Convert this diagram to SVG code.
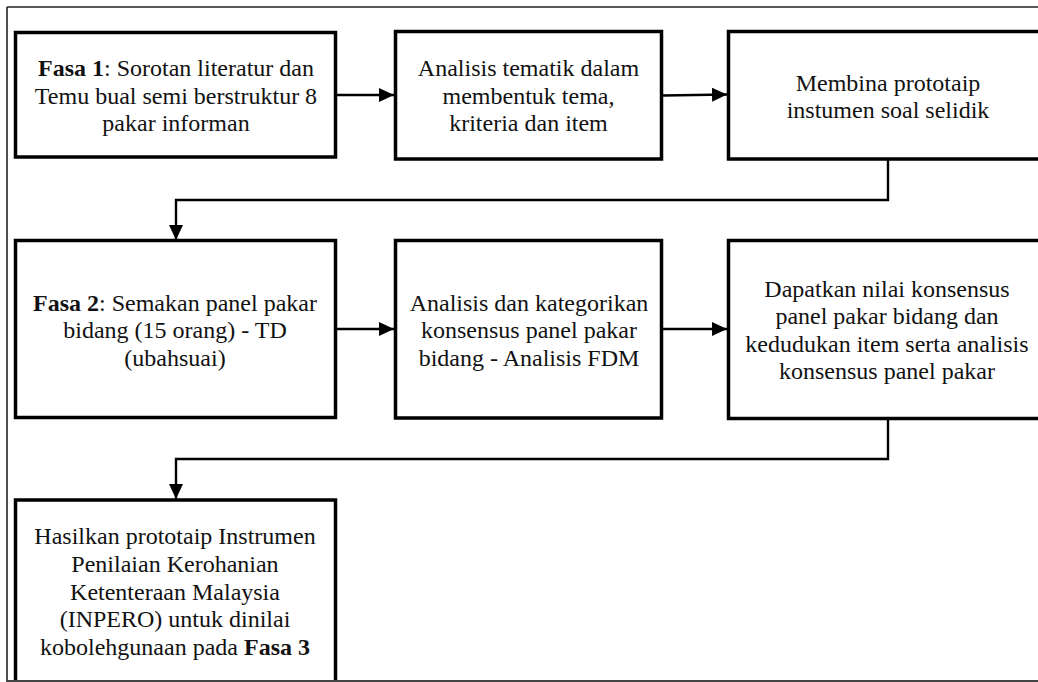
<svg xmlns="http://www.w3.org/2000/svg" width="1038" height="682" viewBox="0 0 1038 682">
<style>
  .box { fill: #fff; stroke: #000; stroke-width: 3.5; }
  .frame { fill: none; stroke: #222; stroke-width: 1.6; }
  .conn { fill: none; stroke: #000; stroke-width: 2.4; }
  text { font-family: 'Liberation Serif', 'Times New Roman', serif; font-size: 24px; fill: #111; text-anchor: middle; }
  .b { font-weight: bold; }
</style>
<defs>
  <marker id="arr" markerUnits="userSpaceOnUse" markerWidth="16" markerHeight="14" refX="15" refY="7" orient="auto">
    <path d="M0,0 L15,7 L0,14 Z" fill="#000"/>
  </marker>
</defs>
<rect width="1038" height="682" fill="#fff"/>
<g id="frame">
  <line class="frame" x1="7" y1="7" x2="1038" y2="7"/>
  <line class="frame" x1="7" y1="7" x2="7" y2="682"/>
</g>
<g id="connectors">
  <line class="conn" x1="337" y1="95" x2="394" y2="95" marker-end="url(#arr)"/>
  <line class="conn" x1="663" y1="95.5" x2="727" y2="94.5" marker-end="url(#arr)"/>
  <polyline class="conn" points="888,160 888,200 176,200 176,240" marker-end="url(#arr)"/>
  <line class="conn" x1="337" y1="329" x2="394" y2="329" marker-end="url(#arr)"/>
  <line class="conn" x1="663" y1="329" x2="727" y2="329" marker-end="url(#arr)"/>
  <polyline class="conn" points="888,420 888,459 176,459 176,499" marker-end="url(#arr)"/>
</g>
<g id="n1">
  <rect class="box" x="15.5" y="32.5" width="320" height="124.5"/>
  <text x="176" y="76"><tspan class="b">Fasa 1</tspan>: Sorotan literatur dan</text>
  <text x="176" y="103.5">Temu bual semi berstruktur 8</text>
  <text x="176" y="131">pakar informan</text>
</g>
<g id="n2">
  <rect class="box" x="395.5" y="31.5" width="266" height="127.5"/>
  <text x="528.5" y="76">Analisis tematik dalam</text>
  <text x="528.5" y="103.5">membentuk tema,</text>
  <text x="528.5" y="131">kriteria dan item</text>
</g>
<g id="n3">
  <rect class="box" x="728.5" y="31.5" width="320" height="127.5"/>
  <text x="888" y="90.5">Membina prototaip</text>
  <text x="888" y="118">instumen soal selidik</text>
</g>
<g id="n4">
  <rect class="box" x="15.5" y="240.5" width="320" height="177"/>
  <text x="175" y="310.5"><tspan class="b">Fasa 2</tspan>: Semakan panel pakar</text>
  <text x="175" y="338">bidang (15 orang) - TD</text>
  <text x="175" y="365.5">(ubahsuai)</text>
</g>
<g id="n5">
  <rect class="box" x="395.5" y="240.5" width="266" height="177.5"/>
  <text x="529" y="310.5">Analisis dan kategorikan</text>
  <text x="529" y="338">konsensus panel pakar</text>
  <text x="529" y="365.5">bidang - Analisis FDM</text>
</g>
<g id="n6">
  <rect class="box" x="728.5" y="240.5" width="320" height="178"/>
  <text x="887" y="296.5">Dapatkan nilai konsensus</text>
  <text x="887" y="324">panel pakar bidang dan</text>
  <text x="887" y="351.5">kedudukan item serta analisis</text>
  <text x="887" y="379">konsensus panel pakar</text>
</g>
<g id="n7">
  <rect class="box" x="15.5" y="500" width="320" height="200"/>
  <text x="175" y="544">Hasilkan prototaip Instrumen</text>
  <text x="175" y="571.5">Penilaian Kerohanian</text>
  <text x="175" y="599.5">Ketenteraan Malaysia</text>
  <text x="175" y="627">(INPERO) untuk dinilai</text>
  <text x="175" y="654.5">kobolehgunaan pada <tspan class="b">Fasa 3</tspan></text>
</g>
<line x1="7" y1="681" x2="1038" y2="681" stroke="#444" stroke-width="2"/>
</svg>
